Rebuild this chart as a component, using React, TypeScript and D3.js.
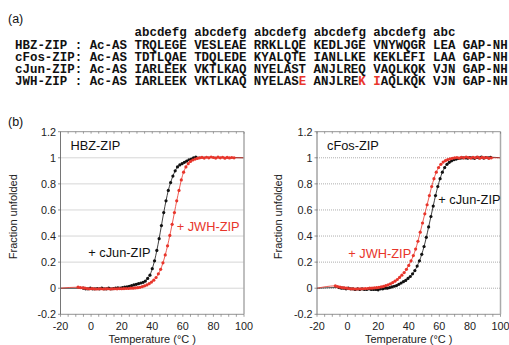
import React from 'react';
import * as d3 from 'd3';

// ---------- DATA ----------
const STEP = 1.5;

// HBZ-ZIP panel
const hbzJunStart = -5;
const hbzJun = [
  0.0, -0.005, -0.005, 0.0, -0.005, -0.005, -0.003, -0.005, 0.0, -0.005,
  -0.005, 0.0, -0.005, -0.003, 0.0, 0.003, 0.0, 0.005, 0.008, 0.01,
  0.015, 0.02, 0.025, 0.03, 0.035, 0.04, 0.045, 0.055, 0.075, 0.1,
  0.15, 0.21, 0.29, 0.38, 0.48, 0.58, 0.67, 0.75, 0.81, 0.86,
  0.9, 0.93, 0.945, 0.955, 0.965, 0.975, 0.985, 0.99, 1.0, 1.005,
];
const hbzJwhStart = -8.5;
const hbzJwh = [
  0.008, 0.005, 0.003, 0.0, -0.003, -0.005, -0.003, -0.005, -0.006, -0.005,
  -0.004, -0.006, -0.005, -0.004, -0.006, -0.005, -0.004, -0.005, -0.003, -0.004,
  -0.003, -0.002, -0.002, 0.0, 0.0, 0.002, 0.004, 0.007, 0.012, 0.018,
  0.025, 0.035, 0.047, 0.062, 0.082, 0.11, 0.145, 0.195, 0.255, 0.325,
  0.405, 0.49, 0.58, 0.67, 0.75, 0.83, 0.89, 0.93, 0.955, 0.972,
  0.983, 0.99, 0.995, 1.0, 1.003, 0.998, 1.004, 1.0, 1.006, 1.002,
  0.998, 1.005, 1.0, 1.004, 0.997, 1.003, 0.999, 1.002, 1.0,
];

// cFos-ZIP panel
const fosJunStart = -5.5;
const fosJun = [
  0.005, 0.0, 0.0, -0.005, 0.0, -0.005, -0.005, -0.01, -0.005, -0.01,
  -0.005, -0.01, -0.01, -0.005, -0.01, -0.01, -0.01, -0.012, -0.005, -0.005,
  0.0, 0.0, 0.005, 0.01, 0.015, 0.02, 0.03, 0.04, 0.05, 0.06,
  0.075, 0.09, 0.11, 0.135, 0.17, 0.21, 0.26, 0.32, 0.39, 0.47,
  0.55, 0.63, 0.71, 0.78, 0.84, 0.89, 0.925, 0.95, 0.965, 0.977,
  0.985, 0.99, 0.995, 0.998, 1.0, 1.0, 0.997, 1.002, 1.0, 0.996,
  1.003, 1.0, 1.005, 0.998, 1.002, 1.0, 1.004,
];
const fosJwhStart = -8;
const fosJwh = [
  0.018, 0.012, 0.008, 0.005, 0.002, 0.0, -0.003, -0.005, -0.005, -0.006,
  -0.005, -0.005, -0.004, -0.003, -0.002, 0.0, 0.0, 0.002, 0.004, 0.007,
  0.01, 0.014, 0.02, 0.026, 0.034, 0.043, 0.054, 0.067, 0.083, 0.1,
  0.12, 0.145, 0.175, 0.21, 0.25, 0.3, 0.36, 0.43, 0.5, 0.57,
  0.64, 0.71, 0.78, 0.84, 0.89, 0.925, 0.95, 0.967, 0.978, 0.986,
  0.992, 0.996, 1.0, 1.002, 0.998, 1.004, 1.0, 1.006, 1.002, 0.998,
  1.004, 1.0, 1.006, 0.997, 1.003, 0.999, 1.002, 0.996, 1.0,
];

const xTicks = [-20, 0, 20, 40, 60, 80, 100];
const yTicks = [-0.2, 0, 0.2, 0.4, 0.6, 0.8, 1, 1.2];
const gridValues = [0, 0.2, 0.4, 0.6, 0.8, 1];

const seqHeader = 'abcdefg abcdefg abcdefg abcdefg abcdefg abc';
const seqRows = [
  'HBZ-ZIP : Ac-AS TRQLEGE VESLEAE RRKLLQE KEDLJGE VNYWQGR LEA GAP-NH',
  'cFos-ZIP: Ac-AS TDTLQAE TDQLEDE KYALQTE IANLLKE KEKLEFI LAA GAP-NH',
  'cJun-ZIP: Ac-AS IARLEEK VKTLKAQ NYELAST ANJLREQ VAQLKQK VJN GAP-NH',
  'JWH-ZIP : Ac-AS IARLEEK VKTLKAQ NYELASE ANJLREK IAQLKQK VJN GAP-NH',
];
const seqRedChars = [[], [], [], [38, 46, 48]];

// ---------- STYLE ----------
const RED = '#e8352b';
const BLACK = '#111';
const SANS = '"Liberation Sans", Arial, sans-serif';
const MONO = '"Liberation Mono", "Courier New", monospace';

type Pt = { t: number; v: number };
const toPts = (start: number, vals: number[]): Pt[] =>
  vals.map((v, i) => ({ t: start + i * STEP, v }));

const yScale = d3.scaleLinear().domain([-0.2, 1.2]).range([314.3, 131.7]);

// split a row into coloured runs
function runs(row: string, red: number[]) {
  const out: { s: string; red: boolean }[] = [];
  row.split('').forEach((ch, i) => {
    const r = red.includes(i);
    const last = out[out.length - 1];
    if (last && last.red === r) last.s += ch;
    else out.push({ s: ch, red: r });
  });
  return out;
}

function Panel({ x0, x1, title, series, labels, ylabelX }: any) {
  const x = d3.scaleLinear().domain([-20, 100]).range([x0, x1]);
  const y = yScale;
  const minor = d3.range(-20, 100.01, 5);
  const line = d3
    .line<Pt>()
    .x((d) => x(d.t))
    .y((d) => y(d.v))
    .curve(d3.curveMonotoneX);
  const top = y(1.2);
  const bot = y(-0.2);
  return (
    <g>
      {gridValues.map((g) => (
        <line key={g} x1={x0} x2={x1} y1={y(g)} y2={y(g)} stroke="#999" strokeWidth={0.8} strokeDasharray="1,1" />
      ))}
      {series.map((s: any, i: number) => {
        const pts: Pt[] = s.pts;
        const ext = [{ t: -20, v: 0 }, ...pts, { t: 100, v: 1 }];
        return (
          <g key={i}>
            <path d={line(ext) || ''} fill="none" stroke={s.color} strokeWidth={0.8} />
            {pts.map((p, j) => (
              <circle key={j} cx={x(p.t)} cy={y(p.v)} r={1.6} fill={s.color} />
            ))}
          </g>
        );
      })}
      <line x1={x0} x2={x1} y1={top} y2={top} stroke="#777" strokeWidth={0.8} />
      <line x1={x0} x2={x1} y1={bot} y2={bot} stroke="#777" strokeWidth={0.8} />
      <line x1={x0} x2={x0} y1={top} y2={bot} stroke="#666" strokeWidth={0.9} />
      <line x1={x1} x2={x1} y1={top} y2={bot} stroke="#aaa" strokeWidth={1.5} />
      {minor.map((m) => (
        <g key={m}>
          <line x1={x(m)} x2={x(m)} y1={top} y2={top + 2} stroke="#777" strokeWidth={0.7} />
          <line x1={x(m)} x2={x(m)} y1={bot} y2={bot + 2.5} stroke="#777" strokeWidth={0.7} />
        </g>
      ))}
      {yTicks.map((t) => (
        <g key={t}>
          <line x1={x0 - 2.5} x2={x0} y1={y(t)} y2={y(t)} stroke="#666" strokeWidth={0.7} />
          <text x={x0 - 4.5} y={y(t) + 3.8} textAnchor="end" fontSize={10.8} fontFamily={SANS} fill="#222">
            {String(t)}
          </text>
        </g>
      ))}
      {xTicks.map((t) => (
        <text key={t} x={x(t)} y={329.5} textAnchor="middle" fontSize={10.8} fontFamily={SANS} fill="#222">
          {String(t)}
        </text>
      ))}
      <text
        transform={`translate(${ylabelX},216.7) rotate(-90)`}
        textAnchor="middle"
        fontSize={11}
        fontFamily={SANS}
        fill="#222"
      >
        Fraction unfolded
      </text>
      <text x={(x0 + x1) / 2} y={343} textAnchor="middle" fontSize={11} fontFamily={SANS} fill="#222">
        Temperature (°C )
      </text>
      <text x={x0 + 10} y={150} fontSize={12.8} fontFamily={SANS} fill="#111">
        {title}
      </text>
      {labels.map((l: any, i: number) => (
        <text key={i} x={l.x} y={l.y} fontSize={12.8} fontFamily={SANS} fill={l.color}>
          {l.text}
        </text>
      ))}
    </g>
  );
}

export default function App() {
  const fs = 12.45;
  const cw = fs * 0.6;
  const sx = 15;
  const rowY = [49.3, 61.1, 72.9, 84.7];
  return (
    <svg
      width={509}
      height={345}
      style={{ position: 'absolute', left: 0, top: 0, background: '#fff' }}
    >
      <rect width={509} height={345} fill="#fff" />
      <text x={8} y={22.5} fontSize={12.5} fontFamily={SANS} fill="#111">(a)</text>
      <text x={8} y={126} fontSize={12.5} fontFamily={SANS} fill="#111">(b)</text>
      <text x={sx + 16 * cw} y={36} fontSize={fs} fontFamily={MONO} fontWeight="bold" fill="#111" style={{ whiteSpace: 'pre' }}>
        {seqHeader}
      </text>
      {seqRows.map((row, ri) => (
        <text
          key={ri}
          x={sx}
          y={rowY[ri]}
          fontSize={fs}
          fontFamily={MONO}
          fontWeight="bold"
          fill="#111"
          style={{ whiteSpace: 'pre' }}
        >
          {runs(row, seqRedChars[ri]).map((r, k) => (
            <tspan key={k} fill={r.red ? RED : '#111'}>{r.s}</tspan>
          ))}
        </text>
      ))}
      <Panel
        x0={60.5}
        x1={244}
        title="HBZ-ZIP"
        ylabelX={17}
        series={[
          { color: BLACK, pts: toPts(hbzJunStart, hbzJun) },
          { color: RED, pts: toPts(hbzJwhStart, hbzJwh) },
        ]}
        labels={[
          { text: '+ cJun-ZIP', x: 88.3, y: 257, color: BLACK },
          { text: '+ JWH-ZIP', x: 176.7, y: 231, color: RED },
        ]}
      />
      <Panel
        x0={317}
        x1={500.5}
        title="cFos-ZIP"
        ylabelX={282}
        series={[
          { color: BLACK, pts: toPts(fosJunStart, fosJun) },
          { color: RED, pts: toPts(fosJwhStart, fosJwh) },
        ]}
        labels={[
          { text: '+ JWH-ZIP', x: 348.3, y: 258, color: RED },
          { text: '+ cJun-ZIP', x: 438.3, y: 204, color: BLACK },
        ]}
      />
    </svg>
  );
}
